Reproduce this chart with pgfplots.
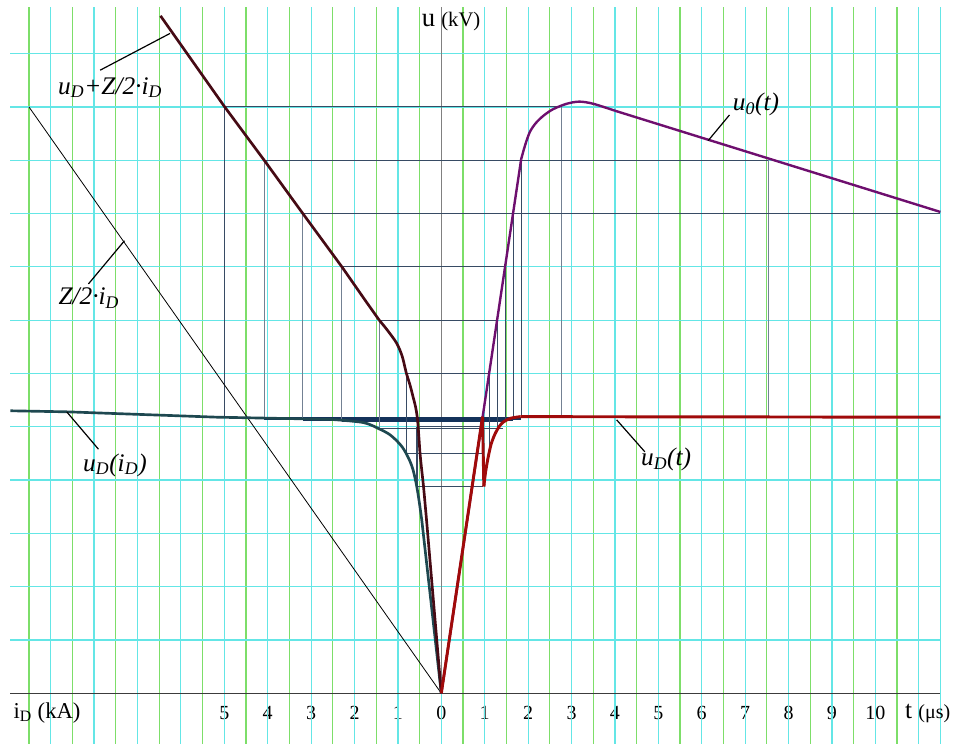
\documentclass[border=0pt]{standalone}
\usepackage{pgfplots}
\pgfplotsset{compat=1.18}
\usepackage{fontspec}
\setmainfont{Liberation Serif}
\definecolor{gcyan}{RGB}{100,230,230}
\definecolor{ggreen}{RGB}{125,222,105}
\definecolor{cbrown}{RGB}{70,10,20}
\definecolor{cteal}{RGB}{30,72,80}
\definecolor{cpurple}{RGB}{110,15,110}
\definecolor{cred}{RGB}{160,10,10}
\definecolor{cons}{RGB}{55,75,100}
\definecolor{cnavy}{RGB}{20,50,90}
\definecolor{axgray}{RGB}{60,60,60}
\begin{document}
\begin{tikzpicture}
\begin{axis}[
  scale only axis, width=697.6pt, height=552.9pt,
  xmin=-9.93, xmax=11.5, ymin=-0.95, ymax=12.88,
  axis x line=middle, axis y line=none,
  x axis line style={draw=none},
  xtick={-5,-4,...,10},
  xticklabels={5,4,3,2,1,0,1,2,3,4,5,6,7,8,9,10},
  major tick length=0pt,
  xticklabel style={font=\fontsize{15}{15}\selectfont, anchor=base, yshift=-19.5pt},
  ytick=\empty,
  clip=false,
  /pgf/number format/assume math mode=true,
]
% grid
\pgfplotsinvokeforeach{-9.5,-8.5,...,11}{\draw[ggreen, line width=0.8pt] (axis cs:#1,-0.95) -- (axis cs:#1,12.88);}
\pgfplotsinvokeforeach{-9,...,11}{\draw[gcyan, line width=0.9pt] (axis cs:#1,-0.95) -- (axis cs:#1,12.88);}
\draw[gcyan, line width=0.9pt] (axis cs:11.5,-0.95) -- (axis cs:11.5,12.88);
\pgfplotsinvokeforeach{1,...,12}{\draw[gcyan, line width=0.9pt] (axis cs:-9.93,#1) -- (axis cs:11.5,#1);}
\draw[axgray, line width=1.1pt] (axis cs:-9.93,0) -- (axis cs:11.5,0);
\draw[gray, line width=1.2pt] (axis cs:0,0) -- (axis cs:0,12.88);
\coordinate (bl) at (axis cs:-10.168,-0.951);
\coordinate (tr) at (axis cs:11.79,13.007);

% construction lines: level 11
\addplot[cons, line width=0.8pt, mark=none] coordinates {(-4.99,11) (2.77,11)};
\addplot[cons, line width=0.8pt, mark=none] coordinates {(-4.99,11) (-4.99,5.17)};
\addplot[cnavy, line width=1.1pt, mark=none] coordinates {(-4.99,5.17) (2.77,5.17)};
\addplot[cons!70!white, line width=0.8pt, mark=none] coordinates {(2.77,11) (2.77,5.17)};
% level 10
\addplot[cons, line width=0.8pt, mark=none] coordinates {(-4.08,10) (7.53,10)};
\addplot[cons!70!white, line width=0.8pt, mark=none] coordinates {(-4.08,10) (-4.08,5.16)};
\addplot[cnavy, line width=1.1pt, mark=none] coordinates {(-4.08,5.15) (1.84,5.15)};
\addplot[cons, line width=0.8pt, mark=none] coordinates {(1.84,10) (1.84,5.16)};
\addplot[cons!70!white, line width=0.8pt, mark=none] coordinates {(7.53,10) (7.53,5.19)};
% level 9
\addplot[cons, line width=0.8pt, mark=none] coordinates {(-3.19,9) (11.5,9)};
\addplot[cons!70!white, line width=0.8pt, mark=none] coordinates {(-3.19,9) (-3.19,5.15)};
\addplot[cnavy, line width=1.1pt, mark=none] coordinates {(-3.19,5.13) (1.66,5.13)};
\addplot[cons, line width=0.8pt, mark=none] coordinates {(1.66,9) (1.66,5.15)};
% level 8
\addplot[cons, line width=0.8pt, mark=none] coordinates {(-2.29,8) (1.48,8)};
\addplot[cons!70!white, line width=0.8pt, mark=none] coordinates {(-2.29,8) (-2.29,5.13)};
\addplot[cnavy, line width=1.1pt, mark=none] coordinates {(-2.29,5.11) (1.48,5.11)};
\addplot[cons, line width=0.8pt, mark=none] coordinates {(1.48,8) (1.48,5.11)};
% level 7
\addplot[cons, line width=0.8pt, mark=none] coordinates {(-1.43,7) (1.29,7)};
\addplot[cons!70!white, line width=0.8pt, mark=none] coordinates {(-1.43,7) (-1.43,4.97)};
\addplot[cons, line width=0.8pt, mark=none] coordinates {(-1.43,4.97) (1.43,4.97)};
\addplot[cons, line width=0.8pt, mark=none] coordinates {(1.29,7) (1.29,4.97)};
% level 6
\addplot[cons, line width=0.8pt, mark=none] coordinates {(-0.81,6) (1.12,6)};
\addplot[cons, line width=0.8pt, mark=none] coordinates {(-0.81,6) (-0.81,4.5)};
\addplot[cons, line width=0.8pt, mark=none] coordinates {(-0.81,4.5) (0.97,4.5)};
\addplot[cons, line width=0.8pt, mark=none] coordinates {(1.12,6) (1.12,4.5)};
% level 5
\addplot[cons, line width=0.8pt, mark=none] coordinates {(-0.56,5) (0.97,5)};
\addplot[cons, line width=0.8pt, mark=none] coordinates {(-0.56,5) (-0.56,3.88)};
\addplot[cons, line width=0.8pt, mark=none] coordinates {(-0.56,3.88) (0.97,3.88)};

% Z/2 i_D
\addplot[black, line width=0.6pt, mark=none] coordinates {(-9.5,11) (0,0)};
% u_D(i_D)
\addplot[cteal, line width=2pt, mark=none] coordinates {
(-9.93,5.30) (-8.6,5.28) (-5.17,5.18) (-3.26,5.15) (-2.57,5.14)};
\addplot[cteal, line width=2pt, mark=none, smooth, tension=0.5] coordinates {
(-2.57,5.14) (-1.80,5.08) (-1.43,4.96) (-1.20,4.86) (-1.03,4.74) (-0.90,4.62) (-0.81,4.50)
(-0.72,4.35) (-0.65,4.19) (-0.57,3.90) (-0.51,3.60) (-0.45,3.25)};
\addplot[cteal, line width=2pt, mark=none] coordinates {(-0.45,3.25) (0,0)};
% u_D + Z/2 i_D
\addplot[cbrown, line width=2pt, mark=none] coordinates {
(-6.47,12.71) (-4.99,11) (-4.08,10) (-3.19,9) (-2.29,8) (-1.76,7.38) (-1.43,7)};
\addplot[cbrown, line width=2pt, mark=none, smooth, tension=0.5] coordinates {
(-1.43,7) (-1.25,6.82) (-1.03,6.57) (-0.90,6.32) (-0.81,6.02) (-0.72,5.78) (-0.65,5.56)
(-0.59,5.36) (-0.55,5.15) (-0.52,4.85) (-0.49,4.5) (-0.45,4.18) (-0.41,3.88) (-0.34,3.25)};
\addplot[cbrown, line width=2pt, mark=none] coordinates {(-0.34,3.25) (0,0)};
% u_0(t)
\addplot[cpurple, line width=1.8pt, mark=none] coordinates {(0,0) (1.84,10.02)};
\addplot[cpurple, line width=1.8pt, mark=none, smooth, tension=0.5] coordinates {
(1.84,10.02) (1.93,10.28) (2.04,10.53) (2.18,10.70) (2.36,10.84) (2.58,10.96) (2.89,11.06)
(3.18,11.10) (3.50,11.06) (4.0,10.93)};
\addplot[cpurple, line width=1.8pt, mark=none] coordinates {(4.0,10.93) (11.5,9.03)};
% u_D(t)
\addplot[cred, line width=2.2pt, mark=none] coordinates {(0,0) (0.95,5.19) (0.98,3.88)};
\addplot[cred, line width=2.2pt, mark=none, smooth, tension=0.5] coordinates {
(0.98,3.88) (1.02,4.15) (1.08,4.43) (1.15,4.68) (1.24,4.87) (1.33,5.00) (1.43,5.09) (1.60,5.16) (1.82,5.19)};
\addplot[cred, line width=2.2pt, mark=none] coordinates {(1.82,5.19) (11.5,5.18)};

% labels
\node[font=\fontsize{19}{19}\selectfont\itshape] at (axis cs:-7.63,11.36) {u\textsubscript{D}+Z/2·i\textsubscript{D}};
\draw[line width=0.9pt] (axis cs:-7.86,11.69) -- (axis cs:-6.25,12.38);
\node[font=\fontsize{19}{19}\selectfont\itshape] at (axis cs:-8.12,7.41) {Z/2·i\textsubscript{D}};
\draw[line width=0.9pt] (axis cs:-8.13,7.68) -- (axis cs:-7.30,8.49);
\node[font=\fontsize{19}{19}\selectfont\itshape] at (axis cs:-7.52,4.28) {u\textsubscript{D}(i\textsubscript{D})};
\draw[line width=0.9pt] (axis cs:-8.63,5.28) -- (axis cs:-7.90,4.58);
\node[font=\fontsize{19}{19}\selectfont\itshape] at (axis cs:5.18,4.38) {u\textsubscript{D}(t)};
\draw[line width=0.9pt] (axis cs:4.04,5.13) -- (axis cs:4.69,4.53);
\node[font=\fontsize{19}{19}\selectfont\itshape] at (axis cs:7.25,11.05) {u\textsubscript{0}(t)};
\draw[line width=0.9pt] (axis cs:6.15,10.37) -- (axis cs:6.64,10.85);

\node[anchor=base west, inner sep=0pt, font=\fontsize{20}{20}\selectfont] at (axis cs:-0.452,12.51) {u\hspace{4.5pt}{\fontsize{15.5}{15.5}\selectfont (kV)}};
\node[anchor=base west, inner sep=0pt, font=\fontsize{17}{17}\selectfont] at (axis cs:-9.86,-0.469) {i\textsubscript{D} (kA)};
\node[anchor=base west, inner sep=0pt, font=\fontsize{19}{19}\selectfont] at (axis cs:10.68,-0.469) {t {\fontsize{15}{15}\selectfont (μs)}};
\end{axis}
\pgfresetboundingbox
\useasboundingbox (bl) rectangle (tr);
\end{tikzpicture}
\end{document}
